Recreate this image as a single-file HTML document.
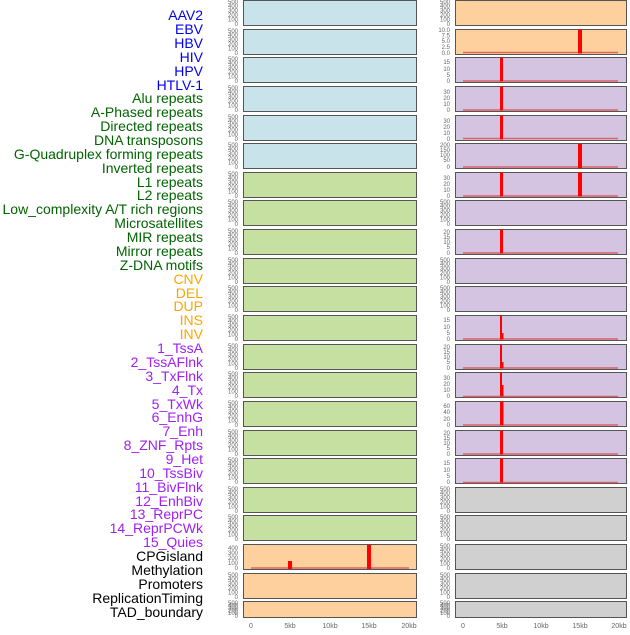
<!DOCTYPE html>
<html><head><meta charset="utf-8"><style>
body{margin:0;background:#fff;width:630px;height:630px;overflow:hidden}
svg{font-family:"Liberation Sans",sans-serif}
.l{font-size:14px;text-anchor:end}
.t{font-size:6px;fill:#666;text-anchor:end}
.x{font-size:7px;fill:#666;text-anchor:middle}
.b{stroke:#555;stroke-width:1}
</style></head><body>
<svg width="630" height="630" viewBox="0 0 630 630">
<g class="l">
<g fill="#0000ee">
<text x="203" y="20">AAV2</text><text x="203" y="34">EBV</text><text x="203" y="48">HBV</text><text x="203" y="62">HIV</text><text x="203" y="76">HPV</text><text x="203" y="90">HTLV-1</text></g>
<g fill="#006400">
<text x="203" y="103">Alu repeats</text><text x="203" y="117">A-Phased repeats</text><text x="203" y="131">Directed repeats</text><text x="203" y="145">DNA transposons</text><text x="203" y="159">G-Quadruplex forming repeats</text><text x="203" y="173">Inverted repeats</text><text x="203" y="187">L1 repeats</text><text x="203" y="200">L2 repeats</text><text x="203" y="214">Low_complexity A/T rich regions</text><text x="203" y="228">Microsatellites</text><text x="203" y="242">MIR repeats</text><text x="203" y="256">Mirror repeats</text><text x="203" y="270">Z-DNA motifs</text></g>
<g fill="#ffa500">
<text x="203" y="284">CNV</text><text x="203" y="298">DEL</text><text x="203" y="311">DUP</text><text x="203" y="325">INS</text><text x="203" y="339">INV</text></g>
<g fill="#a020f0">
<text x="203" y="353">1_TssA</text><text x="203" y="367">2_TssAFlnk</text><text x="203" y="381">3_TxFlnk</text><text x="203" y="395">4_Tx</text><text x="203" y="409">5_TxWk</text><text x="203" y="422">6_EnhG</text><text x="203" y="436">7_Enh</text><text x="203" y="450">8_ZNF_Rpts</text><text x="203" y="464">9_Het</text><text x="203" y="478">10_TssBiv</text><text x="203" y="492">11_BivFlnk</text><text x="203" y="506">12_EnhBiv</text><text x="203" y="519">13_ReprPC</text><text x="203" y="533">14_ReprPCWk</text><text x="203" y="547">15_Quies</text></g>
<g fill="#000">
<text x="203" y="561">CPGisland</text><text x="203" y="575">Methylation</text><text x="203" y="589">Promoters</text><text x="203" y="603">ReplicationTiming</text><text x="203" y="617">TAD_boundary</text></g>
</g>

<g class="b">
<rect x="243.5" y="0.5" width="173" height="25" fill="#c9e3ea"/>
<rect x="243.5" y="29.5" width="173" height="25" fill="#c9e3ea"/>
<rect x="243.5" y="57.5" width="173" height="25" fill="#c9e3ea"/>
<rect x="243.5" y="86.5" width="173" height="25" fill="#c9e3ea"/>
<rect x="243.5" y="115.5" width="173" height="25" fill="#c9e3ea"/>
<rect x="243.5" y="143.5" width="173" height="25" fill="#c9e3ea"/>
<rect x="243.5" y="172.5" width="173" height="25" fill="#c6e0a2"/>
<rect x="243.5" y="200.5" width="173" height="25" fill="#c6e0a2"/>
<rect x="243.5" y="229.5" width="173" height="25" fill="#c6e0a2"/>
<rect x="243.5" y="258.5" width="173" height="25" fill="#c6e0a2"/>
<rect x="243.5" y="286.5" width="173" height="25" fill="#c6e0a2"/>
<rect x="243.5" y="315.5" width="173" height="25" fill="#c6e0a2"/>
<rect x="243.5" y="344.5" width="173" height="25" fill="#c6e0a2"/>
<rect x="243.5" y="372.5" width="173" height="25" fill="#c6e0a2"/>
<rect x="243.5" y="401.5" width="173" height="25" fill="#c6e0a2"/>
<rect x="243.5" y="430.5" width="173" height="25" fill="#c6e0a2"/>
<rect x="243.5" y="458.5" width="173" height="25" fill="#c6e0a2"/>
<rect x="243.5" y="487.5" width="173" height="25" fill="#c6e0a2"/>
<rect x="243.5" y="515.5" width="173" height="25" fill="#c6e0a2"/>
<rect x="243.5" y="544.5" width="173" height="25" fill="#fed09e"/>
<rect x="243.5" y="573.5" width="173" height="25" fill="#fed09e"/>
<rect x="243.5" y="601.5" width="173" height="16" fill="#fed09e"/>
</g>
<g class="b">
<rect x="455.5" y="0.5" width="171" height="25" fill="#fed09e"/>
<rect x="455.5" y="29.5" width="171" height="25" fill="#fed09e"/>
<rect x="455.5" y="57.5" width="171" height="25" fill="#d5c4e1"/>
<rect x="455.5" y="86.5" width="171" height="25" fill="#d5c4e1"/>
<rect x="455.5" y="115.5" width="171" height="25" fill="#d5c4e1"/>
<rect x="455.5" y="143.5" width="171" height="25" fill="#d5c4e1"/>
<rect x="455.5" y="172.5" width="171" height="25" fill="#d5c4e1"/>
<rect x="455.5" y="200.5" width="171" height="25" fill="#d5c4e1"/>
<rect x="455.5" y="229.5" width="171" height="25" fill="#d5c4e1"/>
<rect x="455.5" y="258.5" width="171" height="25" fill="#d5c4e1"/>
<rect x="455.5" y="286.5" width="171" height="25" fill="#d5c4e1"/>
<rect x="455.5" y="315.5" width="171" height="25" fill="#d5c4e1"/>
<rect x="455.5" y="344.5" width="171" height="25" fill="#d5c4e1"/>
<rect x="455.5" y="372.5" width="171" height="25" fill="#d5c4e1"/>
<rect x="455.5" y="401.5" width="171" height="25" fill="#d5c4e1"/>
<rect x="455.5" y="430.5" width="171" height="25" fill="#d5c4e1"/>
<rect x="455.5" y="458.5" width="171" height="25" fill="#d5c4e1"/>
<rect x="455.5" y="487.5" width="171" height="25" fill="#d0d0d0"/>
<rect x="455.5" y="515.5" width="171" height="25" fill="#d0d0d0"/>
<rect x="455.5" y="544.5" width="171" height="25" fill="#d0d0d0"/>
<rect x="455.5" y="573.5" width="171" height="25" fill="#d0d0d0"/>
<rect x="455.5" y="601.5" width="171" height="16" fill="#d0d0d0"/>
</g>

<g stroke="#d84a4a" stroke-width="1.5" opacity="0.8">
<line x1="463" x2="618" y1="52.5" y2="52.5"/>
<line x1="463" x2="618" y1="81" y2="81"/>
<line x1="463" x2="618" y1="110" y2="110"/>
<line x1="463" x2="618" y1="138.5" y2="138.5"/>
<line x1="463" x2="618" y1="167" y2="167"/>
<line x1="463" x2="618" y1="196" y2="196"/>
<line x1="463" x2="618" y1="253" y2="253"/>
<line x1="463" x2="618" y1="339" y2="339"/>
<line x1="463" x2="618" y1="368" y2="368"/>
<line x1="463" x2="618" y1="396.5" y2="396.5"/>
<line x1="463" x2="618" y1="425" y2="425"/>
<line x1="463" x2="618" y1="454" y2="454"/>
<line x1="463" x2="618" y1="482.5" y2="482.5"/>
<line x1="251" x2="409" y1="568" y2="568"/>
</g>
<g fill="#ff0000">
<rect x="578" y="29.5" width="4" height="24"/>
<rect x="500" y="57.5" width="3" height="24"/>
<rect x="500" y="86.5" width="3" height="24"/>
<rect x="500" y="115.5" width="3" height="24"/>
<rect x="578" y="144" width="4" height="24"/>
<rect x="500" y="172.5" width="3" height="24"/><rect x="578" y="172.5" width="4" height="24"/>
<rect x="500" y="229.5" width="3" height="24"/>
<rect x="500" y="315.5" width="2" height="24"/><rect x="502" y="333" width="1.5" height="6.5"/>
<rect x="500" y="344.5" width="2" height="24"/><rect x="502" y="362" width="1.5" height="6.5"/>
<rect x="500" y="372.5" width="2" height="24"/><rect x="502" y="385" width="1.5" height="11.5"/>
<rect x="500" y="401.5" width="3.5" height="24"/>
<rect x="500" y="430.5" width="3" height="24"/>
<rect x="500" y="458.5" width="3" height="24"/>
<rect x="367" y="545" width="4" height="24"/>
<rect x="288" y="561" width="4" height="8"/>
</g>

<g class="t">
<g><text x="238" y="4">500</text><text x="238" y="8">400</text><text x="238" y="12.5">300</text><text x="238" y="17">200</text><text x="238" y="21.5">100</text><text x="238" y="26">0</text></g>
<g transform="translate(0,29)"><text x="238" y="4">500</text><text x="238" y="8">400</text><text x="238" y="12.5">300</text><text x="238" y="17">200</text><text x="238" y="21.5">100</text><text x="238" y="26">0</text></g>
<g transform="translate(0,57)"><text x="238" y="4">500</text><text x="238" y="8">400</text><text x="238" y="12.5">300</text><text x="238" y="17">200</text><text x="238" y="21.5">100</text><text x="238" y="26">0</text></g>
<g transform="translate(0,86)"><text x="238" y="4">500</text><text x="238" y="8">400</text><text x="238" y="12.5">300</text><text x="238" y="17">200</text><text x="238" y="21.5">100</text><text x="238" y="26">0</text></g>
<g transform="translate(0,115)"><text x="238" y="4">500</text><text x="238" y="8">400</text><text x="238" y="12.5">300</text><text x="238" y="17">200</text><text x="238" y="21.5">100</text><text x="238" y="26">0</text></g>
<g transform="translate(0,143)"><text x="238" y="4">500</text><text x="238" y="8">400</text><text x="238" y="12.5">300</text><text x="238" y="17">200</text><text x="238" y="21.5">100</text><text x="238" y="26">0</text></g>
<g transform="translate(0,172)"><text x="238" y="4">500</text><text x="238" y="8">400</text><text x="238" y="12.5">300</text><text x="238" y="17">200</text><text x="238" y="21.5">100</text><text x="238" y="26">0</text></g>
<g transform="translate(0,200)"><text x="238" y="4">500</text><text x="238" y="8">400</text><text x="238" y="12.5">300</text><text x="238" y="17">200</text><text x="238" y="21.5">100</text><text x="238" y="26">0</text></g>
<g transform="translate(0,229)"><text x="238" y="4">500</text><text x="238" y="8">400</text><text x="238" y="12.5">300</text><text x="238" y="17">200</text><text x="238" y="21.5">100</text><text x="238" y="26">0</text></g>
<g transform="translate(0,258)"><text x="238" y="4">500</text><text x="238" y="8">400</text><text x="238" y="12.5">300</text><text x="238" y="17">200</text><text x="238" y="21.5">100</text><text x="238" y="26">0</text></g>
<g transform="translate(0,286)"><text x="238" y="4">500</text><text x="238" y="8">400</text><text x="238" y="12.5">300</text><text x="238" y="17">200</text><text x="238" y="21.5">100</text><text x="238" y="26">0</text></g>
<g transform="translate(0,315)"><text x="238" y="4">500</text><text x="238" y="8">400</text><text x="238" y="12.5">300</text><text x="238" y="17">200</text><text x="238" y="21.5">100</text><text x="238" y="26">0</text></g>
<g transform="translate(0,344)"><text x="238" y="4">500</text><text x="238" y="8">400</text><text x="238" y="12.5">300</text><text x="238" y="17">200</text><text x="238" y="21.5">100</text><text x="238" y="26">0</text></g>
<g transform="translate(0,372)"><text x="238" y="4">500</text><text x="238" y="8">400</text><text x="238" y="12.5">300</text><text x="238" y="17">200</text><text x="238" y="21.5">100</text><text x="238" y="26">0</text></g>
<g transform="translate(0,401)"><text x="238" y="4">500</text><text x="238" y="8">400</text><text x="238" y="12.5">300</text><text x="238" y="17">200</text><text x="238" y="21.5">100</text><text x="238" y="26">0</text></g>
<g transform="translate(0,430)"><text x="238" y="4">500</text><text x="238" y="8">400</text><text x="238" y="12.5">300</text><text x="238" y="17">200</text><text x="238" y="21.5">100</text><text x="238" y="26">0</text></g>
<g transform="translate(0,458)"><text x="238" y="4">500</text><text x="238" y="8">400</text><text x="238" y="12.5">300</text><text x="238" y="17">200</text><text x="238" y="21.5">100</text><text x="238" y="26">0</text></g>
<g transform="translate(0,487)"><text x="238" y="4">500</text><text x="238" y="8">400</text><text x="238" y="12.5">300</text><text x="238" y="17">200</text><text x="238" y="21.5">100</text><text x="238" y="26">0</text></g>
<g transform="translate(0,515)"><text x="238" y="4">500</text><text x="238" y="8">400</text><text x="238" y="12.5">300</text><text x="238" y="17">200</text><text x="238" y="21.5">100</text><text x="238" y="26">0</text></g>
<g transform="translate(0,544)"><text x="238" y="6">400</text><text x="238" y="11">300</text><text x="238" y="16">200</text><text x="238" y="21">100</text><text x="238" y="26">0</text></g>
<g transform="translate(0,573)"><text x="238" y="4">500</text><text x="238" y="8">400</text><text x="238" y="12.5">300</text><text x="238" y="17">200</text><text x="238" y="21.5">100</text><text x="238" y="26">0</text></g>
<g transform="translate(0,601)"><text x="238" y="4">500</text><text x="238" y="6.5">400</text><text x="238" y="9">300</text><text x="238" y="11.5">200</text><text x="238" y="14">100</text><text x="238" y="17">0</text></g>

<g transform="translate(212,0)"><text x="238" y="4">500</text><text x="238" y="8">400</text><text x="238" y="12.5">300</text><text x="238" y="17">200</text><text x="238" y="21.5">100</text><text x="238" y="26">0</text></g>
<g transform="translate(212,29)"><text x="238" y="3">10.0</text><text x="238" y="8.5">7.5</text><text x="238" y="14">5.0</text><text x="238" y="20">2.5</text><text x="238" y="26">0.0</text></g>
<g transform="translate(212,57)"><text x="238" y="7">15</text><text x="238" y="14">10</text><text x="238" y="20">5</text><text x="238" y="26">0</text></g>
<g transform="translate(212,86)"><text x="238" y="8">30</text><text x="238" y="14">20</text><text x="238" y="20">10</text><text x="238" y="26">0</text></g>
<g transform="translate(212,115)"><text x="238" y="8">30</text><text x="238" y="14">20</text><text x="238" y="20">10</text><text x="238" y="26">0</text></g>
<g transform="translate(212,143)"><text x="238" y="4">200</text><text x="238" y="9">150</text><text x="238" y="14">100</text><text x="238" y="19">50</text><text x="238" y="26">0</text></g>
<g transform="translate(212,172)"><text x="238" y="8">30</text><text x="238" y="14">20</text><text x="238" y="20">10</text><text x="238" y="26">0</text></g>
<g transform="translate(212,200)"><text x="238" y="4">500</text><text x="238" y="8">400</text><text x="238" y="12.5">300</text><text x="238" y="17">200</text><text x="238" y="21.5">100</text><text x="238" y="26">0</text></g>
<g transform="translate(212,229)"><text x="238" y="5">20</text><text x="238" y="10">15</text><text x="238" y="15">10</text><text x="238" y="20">5</text><text x="238" y="26">0</text></g>
<g transform="translate(212,258)"><text x="238" y="4">500</text><text x="238" y="8">400</text><text x="238" y="12.5">300</text><text x="238" y="17">200</text><text x="238" y="21.5">100</text><text x="238" y="26">0</text></g>
<g transform="translate(212,286)"><text x="238" y="4">500</text><text x="238" y="8">400</text><text x="238" y="12.5">300</text><text x="238" y="17">200</text><text x="238" y="21.5">100</text><text x="238" y="26">0</text></g>
<g transform="translate(212,315)"><text x="238" y="7">15</text><text x="238" y="14">10</text><text x="238" y="20">5</text><text x="238" y="26">0</text></g>
<g transform="translate(212,344)"><text x="238" y="5">20</text><text x="238" y="10">15</text><text x="238" y="15">10</text><text x="238" y="20">5</text><text x="238" y="26">0</text></g>
<g transform="translate(212,372)"><text x="238" y="8">30</text><text x="238" y="14">20</text><text x="238" y="20">10</text><text x="238" y="26">0</text></g>
<g transform="translate(212,401)"><text x="238" y="7">60</text><text x="238" y="13">40</text><text x="238" y="20">20</text><text x="238" y="26">0</text></g>
<g transform="translate(212,430)"><text x="238" y="5">20</text><text x="238" y="10">15</text><text x="238" y="15">10</text><text x="238" y="20">5</text><text x="238" y="26">0</text></g>
<g transform="translate(212,458)"><text x="238" y="7">15</text><text x="238" y="14">10</text><text x="238" y="20">5</text><text x="238" y="26">0</text></g>
<g transform="translate(212,487)"><text x="238" y="4">500</text><text x="238" y="8">400</text><text x="238" y="12.5">300</text><text x="238" y="17">200</text><text x="238" y="21.5">100</text><text x="238" y="26">0</text></g>
<g transform="translate(212,515)"><text x="238" y="4">500</text><text x="238" y="8">400</text><text x="238" y="12.5">300</text><text x="238" y="17">200</text><text x="238" y="21.5">100</text><text x="238" y="26">0</text></g>
<g transform="translate(212,544)"><text x="238" y="4">500</text><text x="238" y="8">400</text><text x="238" y="12.5">300</text><text x="238" y="17">200</text><text x="238" y="21.5">100</text><text x="238" y="26">0</text></g>
<g transform="translate(212,573)"><text x="238" y="4">500</text><text x="238" y="8">400</text><text x="238" y="12.5">300</text><text x="238" y="17">200</text><text x="238" y="21.5">100</text><text x="238" y="26">0</text></g>
<g transform="translate(212,601)"><text x="238" y="4">500</text><text x="238" y="6.5">400</text><text x="238" y="9">300</text><text x="238" y="11.5">200</text><text x="238" y="14">100</text><text x="238" y="17">0</text></g>
</g>

<g class="x">
<text x="251" y="628">0</text><text x="290" y="628">5kb</text><text x="330" y="628">10kb</text><text x="369" y="628">15kb</text><text x="409" y="628">20kb</text>
<text x="463" y="628">0</text><text x="502" y="628">5kb</text><text x="541" y="628">10kb</text><text x="580" y="628">15kb</text><text x="619" y="628">20kb</text>
</g>
</svg>
</body></html>
